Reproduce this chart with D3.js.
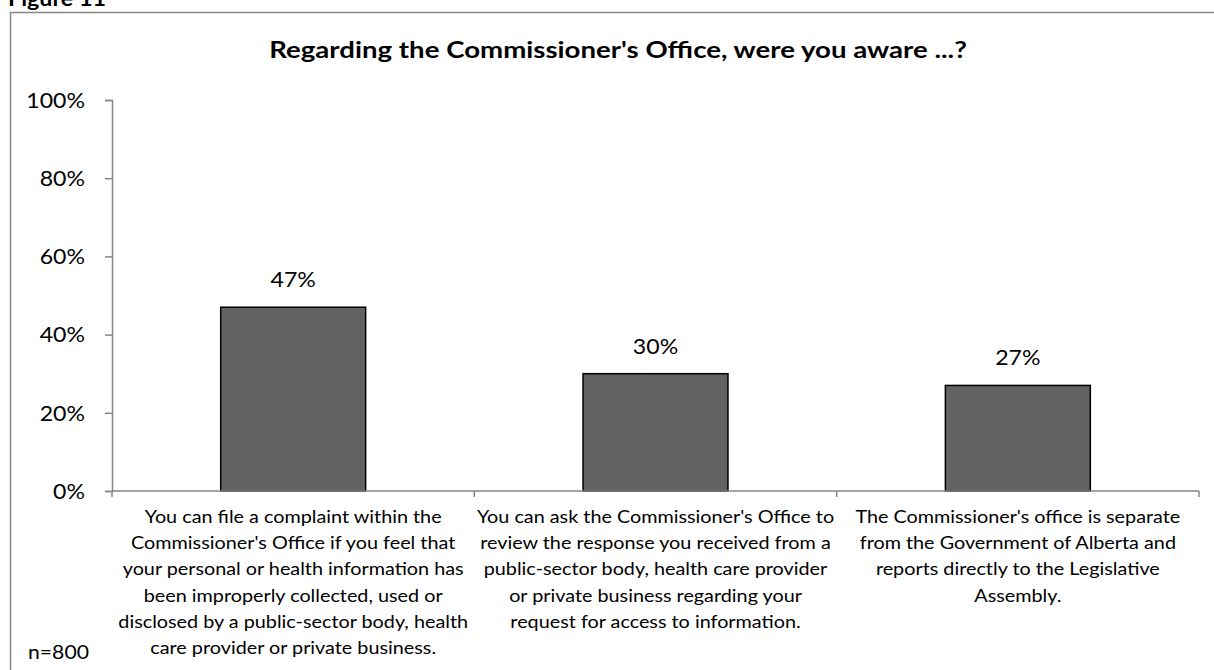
<!DOCTYPE html>
<html>
<head>
<meta charset="utf-8">
<script src="https://cdn.jsdelivr.net/npm/d3@7"></script>
<style>
  html, body { margin: 0; padding: 0; background: #fff; }
  svg { display: block; }
  text { font-family: Lato, "Noto Sans", sans-serif; fill: #000; }
</style>
</head>
<body>
<svg id="chart" width="1214" height="670"></svg>
<script>
// Awareness of the Commissioner's Office
const categories = [
  "You can file a complaint within the Commissioner's Office if you feel that your personal or health information has been improperly collected, used or disclosed by a public-sector body, health care provider or private business.",
  "You can ask the Commissioner's Office to review the response you received from a public-sector body, health care provider or private business regarding your request for access to information.",
  "The Commissioner's office is separate from the Government of Alberta and reports directly to the Legislative Assembly."
];
const categoryLines = [
  ["You can file a complaint within the", "Commissioner's Office if you feel that", "your personal or health information has", "been improperly collected, used or", "disclosed by a public-sector body, health", "care provider or private business."],
  ["You can ask the Commissioner's Office to", "review the response you received from a", "public-sector body, health care provider", "or private business regarding your", "request for access to information."],
  ["The Commissioner's office is separate", "from the Government of Alberta and", "reports directly to the Legislative", "Assembly."]
];
const values = [0.47, 0.30, 0.27];
const yTicks = [0, 0.2, 0.4, 0.6, 0.8, 1.0];
const titleText = "Regarding the Commissioner's Office, were you aware ...?";
const figureLabel = "Figure 11";
const sampleNote = "n=800";

const svg = d3.select("#chart");
const plot = { left: 112, right: 1199, top: 100, bottom: 491 };

const x = d3.scaleBand().domain(categories).range([plot.left, plot.right]).padding(0);
const y = d3.scaleLinear().domain([0, 1]).range([plot.bottom, plot.top]);
const barW = x.bandwidth() * 0.4;
const axisColor = "#868686";
const pct = d3.format(".0%");

// The text face runs a little narrower than the chart's lettering, so
// labels are widened horizontally about their anchor point.
const TEXT_SX = 1.1;

// place a text element at (ax, ay) and stretch it horizontally
function placeStretched(sel, ax, ay, sx) {
  sel.attr("x", 0).attr("y", 0)
    .attr("transform", `translate(${ax},${ay}) scale(${sx},1)`);
}
// stretch a text so that its rendered width equals w
function fitWidth(sel, ax, ay, w) {
  const len = sel.node().getComputedTextLength();
  placeStretched(sel, ax, ay, w / len);
}

// figure caption (partly above the page edge)
const fig = svg.append("text").attr("font-size", 21).attr("font-weight", "bold").text(figureLabel);
fitWidth(fig, 8, 6, 98);

// chart frame
svg.append("rect").attr("x", 10.5).attr("y", 12.5).attr("width", 1230).attr("height", 700)
  .attr("fill", "none").attr("stroke", axisColor).attr("stroke-width", 1.5);

// title
const title = svg.append("text").attr("text-anchor", "middle")
  .attr("font-size", 22.5).attr("font-weight", "bold").text(titleText);
fitWidth(title, 618, 58, 698);

// y axis
const yAxis = svg.append("g").attr("transform", `translate(${plot.left},0)`)
  .call(d3.axisLeft(y).tickValues(yTicks).tickFormat(pct).tickSize(7).tickPadding(20));
yAxis.selectAll("path, line").attr("stroke", axisColor).attr("stroke-width", 1.5);
yAxis.selectAll("text")
  .attr("font-size", 21).attr("font-family", "Lato, 'Noto Sans', sans-serif").attr("fill", "#000")
  .attr("dy", "0.35em")
  .each(function () { placeStretched(d3.select(this), -27, 0, TEXT_SX); });

// bars
svg.append("g").selectAll("rect").data(values).join("rect")
  .attr("x", (d, i) => x(categories[i]) + (x.bandwidth() - barW) / 2)
  .attr("y", d => y(d))
  .attr("width", barW)
  .attr("height", d => y(0) - y(d))
  .attr("fill", "#636363")
  .attr("stroke", "#000")
  .attr("stroke-width", 1.5);

// value labels
svg.append("g").selectAll("text").data(values).join("text")
  .attr("text-anchor", "middle")
  .attr("font-size", 21)
  .text(d => pct(d))
  .each(function (d, i) {
    placeStretched(d3.select(this), x(categories[i]) + x.bandwidth() / 2, y(d) - 20, TEXT_SX);
  });

// x axis with ticks on category boundaries
const xAxis = svg.append("g");
xAxis.append("line").attr("x1", plot.left).attr("x2", plot.right)
  .attr("y1", plot.bottom).attr("y2", plot.bottom)
  .attr("stroke", axisColor).attr("stroke-width", 1.5);
const bounds = categories.map(c => x(c)).concat([x.range()[1]]);
xAxis.selectAll("line.tick").data(bounds).join("line").attr("class", "tick")
  .attr("x1", d => d).attr("x2", d => d)
  .attr("y1", plot.bottom).attr("y2", plot.bottom + 6)
  .attr("stroke", axisColor).attr("stroke-width", 1.5);

// category labels, one tspan per line
svg.append("g").selectAll("text").data(categories).join("text")
  .attr("text-anchor", "middle")
  .attr("font-size", 18)
  .each(function (c, i) {
    const t = d3.select(this);
    placeStretched(t, x(c) + x.bandwidth() / 2, 523, TEXT_SX);
    categoryLines[i].forEach((line, k) => {
      t.append("tspan").attr("x", 0).attr("y", k * 26.2).text(line);
    });
  });

// sample size note
const note = svg.append("text").attr("font-size", 19).text(sampleNote);
fitWidth(note, 28, 659, 61);
</script>
</body>
</html>
